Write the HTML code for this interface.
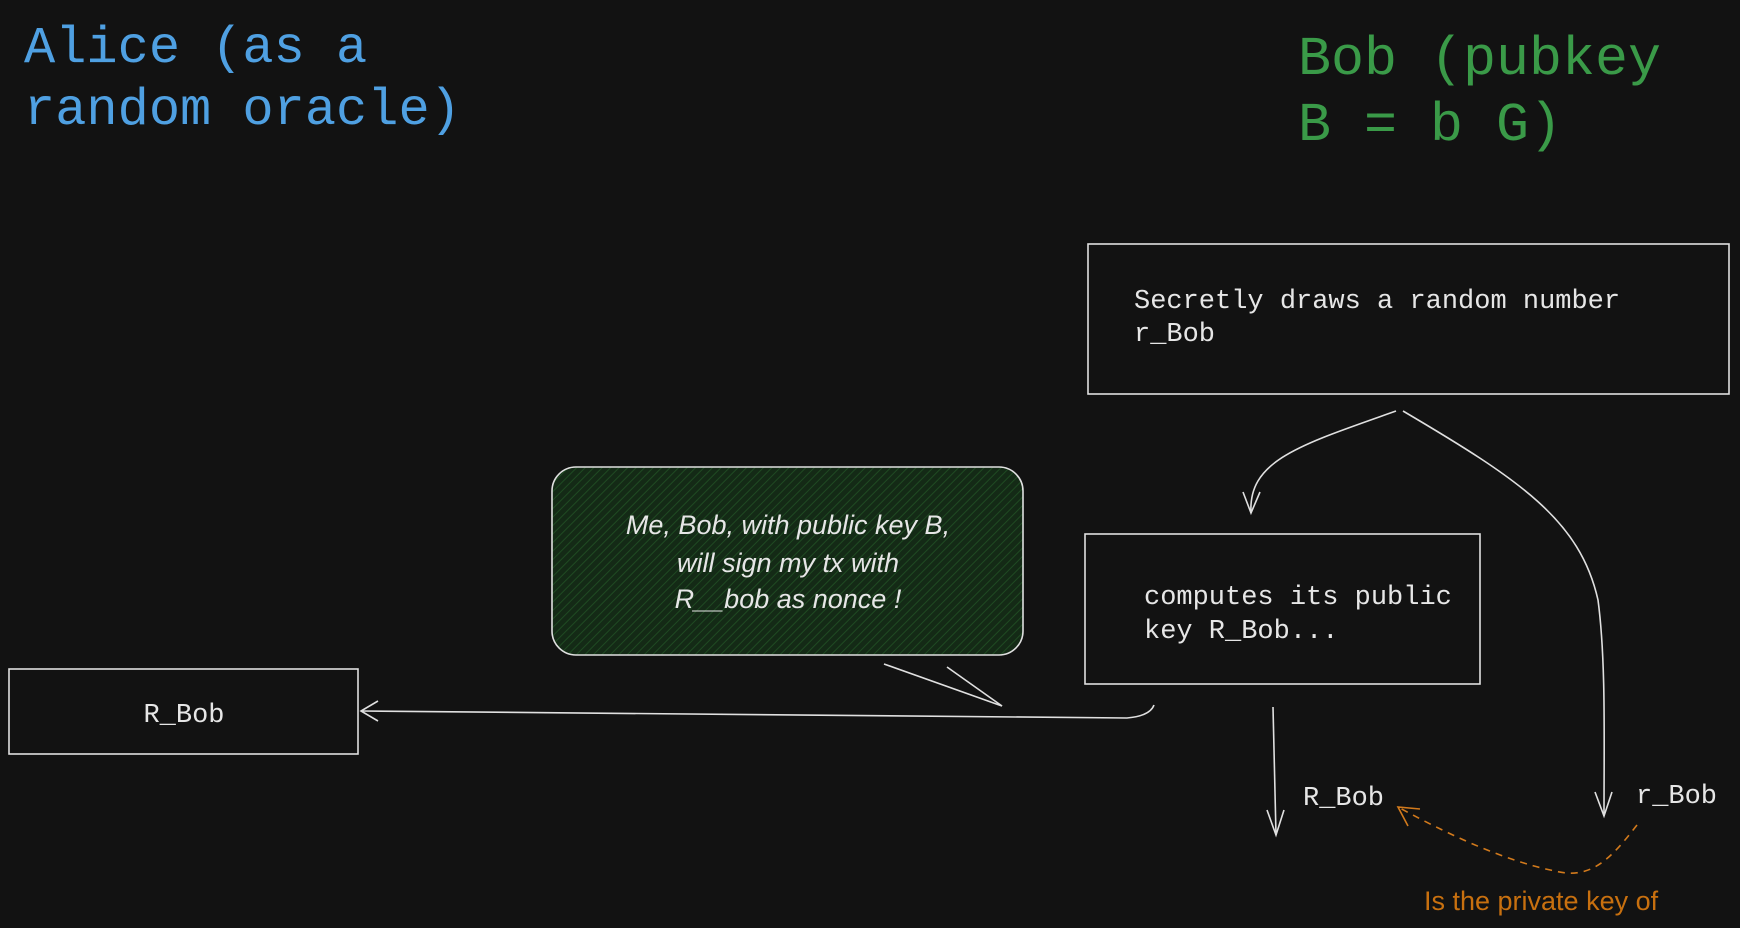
<!DOCTYPE html>
<html><head><meta charset="utf-8"><style>
html,body{margin:0;padding:0;background:#121212;}
svg{display:block}
.mono{font-family:"Liberation Mono","DejaVu Sans Mono",monospace;}
</style></head><body>
<svg width="1740" height="928" viewBox="0 0 1740 928" xmlns="http://www.w3.org/2000/svg">
<defs>
<pattern id="hatch" width="6" height="6" patternUnits="userSpaceOnUse" patternTransform="rotate(45)">
<rect width="6" height="6" fill="#142a16"/>
<line x1="0" y1="0" x2="0" y2="6" stroke="#1f4a22" stroke-width="2"/>
</pattern>
</defs>
<rect width="1740" height="928" fill="#121212"/>
<g class="mono" font-size="52" fill="#4fa0e2">
<text x="24" y="62">Alice (as a</text>
<text x="24" y="124">random oracle)</text>
</g>
<g class="mono" font-size="55" fill="#3a9a48">
<text x="1298" y="74">Bob (pubkey</text>
<text x="1298" y="140">B = b G)</text>
</g>
<g fill="none" stroke="#e0e0e0" stroke-width="1.6">
<rect x="1088" y="244" width="641" height="150"/>
<rect x="1085" y="534" width="395" height="150"/>
<rect x="9" y="669" width="349" height="85"/>
<rect x="552" y="467" width="471" height="188" rx="24" fill="url(#hatch)"/>
<line x1="884" y1="664" x2="1002" y2="706"/>
<line x1="947" y1="667" x2="1002" y2="706"/>
<path d="M1154 705 Q1150 716 1127 718 L361 711"/>
<path d="M378 701 L361 711 L378 721"/>
<path d="M1396 411 C1300 445 1248 460 1251 513"/>
<path d="M1243 492 L1251 513 L1260 492"/>
<path d="M1403 411 C1520 480 1580 520 1598 600 C1606 660 1604 740 1604 816"/>
<path d="M1595 792 L1604 816 L1612 792"/>
<path d="M1273 707 L1276 835"/>
<path d="M1267 810 L1276 835 L1284 810"/>
</g>
<path d="M1637 825 C1610 860 1590 880 1555 871 C1500 860 1440 830 1398 807" fill="none" stroke="#d27a1c" stroke-width="1.6" stroke-dasharray="7 6"/>
<path d="M1408 826 L1398 807 L1420 809" fill="none" stroke="#d27a1c" stroke-width="1.6"/>
<g class="mono" font-size="27" fill="#e6e6e6">
<text x="1134" y="308">Secretly draws a random number</text>
<text x="1134" y="341">r_Bob</text>
<text x="1144" y="604">computes its public</text>
<text x="1144" y="638">key R_Bob...</text>
<text x="184" y="722" text-anchor="middle">R_Bob</text>
<text x="1303" y="805">R_Bob</text>
<text x="1636" y="803">r_Bob</text>
</g>
<g font-family="'Liberation Sans',sans-serif" font-style="italic" font-size="27" fill="#e6e6e6" text-anchor="middle">
<text x="788" y="534">Me, Bob, with public key B,</text>
<text x="788" y="572">will sign my tx with</text>
<text x="788" y="608">R__bob as nonce !</text>
</g>
<text x="1424" y="910" font-family="'Liberation Sans',sans-serif" font-size="27" fill="#c8700f">Is the private key of</text>
</svg>
</body></html>
